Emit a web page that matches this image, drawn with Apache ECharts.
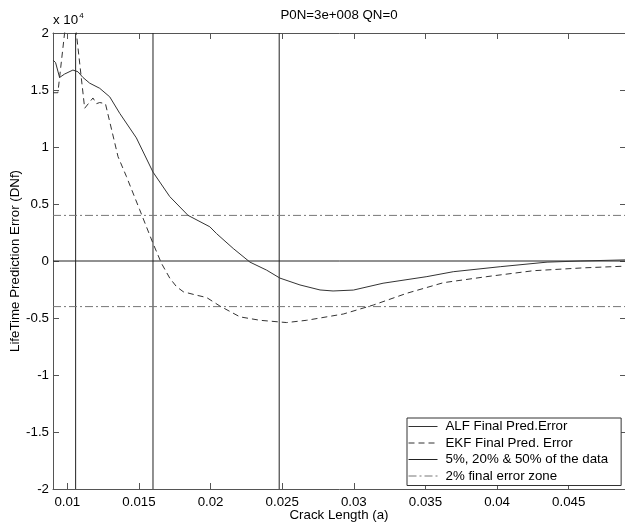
<!DOCTYPE html>
<html><head><meta charset="utf-8">
<script src="https://cdn.jsdelivr.net/npm/echarts@6/dist/echarts.min.js"></script>
<style>html,body{margin:0;padding:0;background:#fff}#c{width:625px;height:523px}</style>
</head><body><div id="c"></div>
<script>
// ---- data ----
const xTicks = [0.01, 0.015, 0.02, 0.025, 0.03, 0.035, 0.04, 0.045];
const yTicks = [-20000, -15000, -10000, -5000, 0, 5000, 10000, 15000, 20000];
const alfX = [0.009, 0.00918, 0.00946, 0.00981, 0.01039, 0.01074, 0.01109, 0.01156, 0.01226, 0.01296, 0.01366, 0.01482, 0.01598, 0.01715, 0.01843, 0.01995, 0.02042, 0.02158, 0.02275, 0.02391, 0.02484, 0.02624, 0.02764, 0.02855, 0.02997, 0.03204, 0.0351, 0.03694, 0.04022, 0.04349, 0.0458, 0.049];
const alfY = [17630, 17400, 16100, 16400, 16750, 16600, 16100, 15600, 15150, 14400, 12950, 10800, 7800, 5650, 4000, 3000, 2400, 1100, -100, -800, -1500, -2100, -2540, -2630, -2550, -1950, -1370, -940, -500, -100, 0, 100];
const ekfX = [0.009, 0.00934, 0.00981, 0.0102, 0.01063, 0.01121, 0.01179, 0.01203, 0.01226, 0.01266, 0.01354, 0.01413, 0.01505, 0.01598, 0.01657, 0.01715, 0.01762, 0.0181, 0.01902, 0.01972, 0.02065, 0.02205, 0.02344, 0.02531, 0.02671, 0.02927, 0.03137, 0.0337, 0.03626, 0.03929, 0.04255, 0.04605, 0.049];
const ekfY = [14760, 14760, 20000, 23000, 20000, 13400, 14300, 13800, 13900, 13800, 9150, 7400, 4500, 1550, -200, -1500, -2250, -2700, -3000, -3200, -3950, -4900, -5200, -5400, -5200, -4650, -3860, -2830, -1900, -1370, -850, -600, -450];
const dataMarksX = [0.01058, 0.01598, 0.02479];
const zeroY = 0;
const zoneY = [4000, -4000];
const seriesNames = ['ALF Final Pred.Error', 'EKF Final Pred. Error', '5%, 20% & 50% of the data', '2% final error zone'];
const titleText = 'P0N=3e+008 QN=0';
const xName = 'Crack Length (a)';
const yName = 'LifeTime Prediction Error (DNf)';

// ---- chart ----
const FONT = '"Liberation Sans", Arial, sans-serif';
const AX = '#555';
const X_MIN = 0.009, X_MAX = 0.049, Y_MIN = -20000, Y_MAX = 20000;
const chart = echarts.init(document.getElementById('c'), null, {renderer: 'canvas'});
const zip = (xs, ys) => xs.map((x, i) => [x, ys[i]]);
const xAxisBase = {
  type: 'value', min: X_MIN, max: X_MAX,
  axisLine: {show: true, onZero: false, lineStyle: {color: AX, width: 1}},
  axisTick: {show: true, inside: true, length: 6, lineStyle: {color: AX}, customValues: xTicks},
  splitLine: {show: false}
};
const yAxisBase = {
  type: 'value', min: Y_MIN, max: Y_MAX, interval: 5000,
  axisLine: {show: true, onZero: false, lineStyle: {color: AX, width: 1}},
  axisTick: {show: true, inside: true, length: 6, lineStyle: {color: AX}},
  splitLine: {show: false}
};
const solidData = {color: '#222', width: 1, type: 'solid'};
const dashDot = {color: '#777', width: 1, type: [8, 3, 2, 3]};
const refSeries = [];
dataMarksX.forEach(v => refSeries.push({name: seriesNames[2], type: 'line', symbol: 'none', silent: true,
  data: [[v, Y_MIN], [v, Y_MAX]], lineStyle: solidData, itemStyle: {color: '#222'}, z: 2}));
refSeries.push({name: seriesNames[2], type: 'line', symbol: 'none', silent: true,
  data: [[X_MIN, zeroY], [X_MAX, zeroY]], lineStyle: solidData, itemStyle: {color: '#222'}, z: 2});
zoneY.forEach(v => refSeries.push({name: seriesNames[3], type: 'line', symbol: 'none', silent: true,
  data: [[X_MIN, v], [X_MAX, v]], lineStyle: dashDot, itemStyle: {color: '#777'}, z: 2}));

chart.setOption({
  animation: false,
  backgroundColor: '#fff',
  textStyle: {fontFamily: FONT},
  grid: {left: 53, right: -1, top: 33, bottom: 34, containLabel: false, outerBoundsMode: 'none'},
  xAxis: [
    Object.assign({}, xAxisBase, {position: 'bottom',
      axisLabel: {show: true, customValues: xTicks, margin: 7, color: '#000', fontSize: 13.3, fontFamily: FONT,
        formatter: v => String(+v.toFixed(4))}}),
    Object.assign({}, xAxisBase, {position: 'top', axisLabel: {show: false}})
  ],
  yAxis: [
    Object.assign({}, yAxisBase, {position: 'left',
      axisLabel: {show: true, margin: 4, color: '#000', fontSize: 13.3, fontFamily: FONT,
        formatter: v => String(v / 10000)}}),
    Object.assign({}, yAxisBase, {position: 'right', axisLabel: {show: false}})
  ],
  legend: {
    orient: 'vertical', left: 407, top: 418,
    padding: [2, 13, 3, 1], itemGap: 3.5, itemWidth: 29, itemHeight: 12,
    backgroundColor: '#fff', borderColor: '#333', borderWidth: 1, borderRadius: 0,
    itemStyle: {opacity: 0, borderWidth: 0},
    lineStyle: {width: 1},
    textStyle: {fontSize: 13.3, color: '#000', fontFamily: FONT, padding: [0, 0, 0, 3]},
    data: seriesNames
  },
  graphic: [
    {type: 'text', style: {text: titleText, x: 339, y: 15, align: 'center', verticalAlign: 'middle', fontSize: 13.3, fontFamily: FONT, fill: '#000'}},
    {type: 'text', style: {text: xName, x: 339, y: 515, align: 'center', verticalAlign: 'middle', fontSize: 13.3, fontFamily: FONT, fill: '#000'}},
    {type: 'text', x: 15, y: 261, rotation: Math.PI / 2, style: {text: yName, x: 0, y: 0, align: 'center', verticalAlign: 'middle', fontSize: 13.3, fontFamily: FONT, fill: '#000'}},
    {type: 'text', style: {text: '{a|x 10}{b|4}', x: 53, y: 28, align: 'left', verticalAlign: 'bottom', fontFamily: FONT,
      rich: {a: {fontSize: 13.3, fill: '#000', fontFamily: FONT}, b: {fontSize: 8, fill: '#000', fontFamily: FONT, verticalAlign: 'top', padding: [0, 0, 8, 1]}}}}
  ],
  series: [
    {name: seriesNames[0], type: 'line', data: zip(alfX, alfY), symbol: 'none', clip: true,
      lineStyle: {color: '#333', width: 1, type: 'solid'}, itemStyle: {color: '#333'}, z: 3},
    {name: seriesNames[1], type: 'line', data: zip(ekfX, ekfY), symbol: 'none', clip: true,
      lineStyle: {color: '#333', width: 1, type: [6, 4]}, itemStyle: {color: '#333'}, z: 3}
  ].concat(refSeries)
});
</script>
</body></html>
